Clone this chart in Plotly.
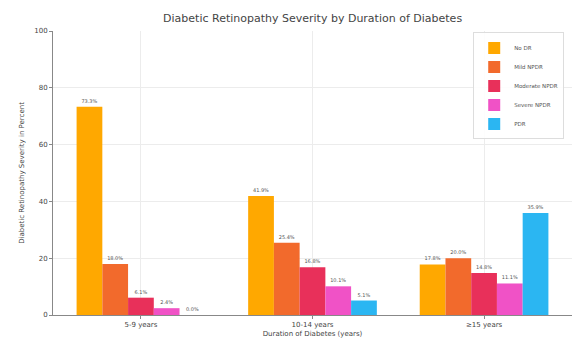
import plotly.graph_objects as go

# Share of patients in each retinopathy grade, by diabetes duration
durations = ["5-9 years", "10-14 years", "≥15 years"]
no_dr = [73.3, 41.9, 17.8]
mild_npdr = [18.0, 25.4, 20.0]
moderate_npdr = [6.1, 16.8, 14.8]
severe_npdr = [2.4, 10.1, 11.1]
pdr = [0.0, 5.1, 35.9]

series = [
    ("No DR", no_dr, "#FFA800"),
    ("Mild NPDR", mild_npdr, "#F26A2C"),
    ("Moderate NPDR", moderate_npdr, "#E8305A"),
    ("Severe NPDR", severe_npdr, "#F052C6"),
    ("PDR", pdr, "#2BB6F2"),
]

FONT = "DejaVu Sans"

fig = go.Figure()
for name, vals, color in series:
    fig.add_trace(go.Bar(
        name=name,
        x=durations,
        y=vals,
        marker=dict(color=color, line=dict(width=0)),
        texttemplate="%{y:.1f}%",
        textposition="outside",
        constraintext="none",
        cliponaxis=False,
        textfont=dict(size=5, color="#555555", family=FONT),
    ))

fig.update_layout(
    width=572,
    height=338,
    margin=dict(l=53, r=0, t=31, b=23),
    paper_bgcolor="white",
    plot_bgcolor="white",
    barmode="group",
    bargap=0.25,
    bargroupgap=0,
    font=dict(family=FONT, color="#444444", size=7),
    title=dict(
        text="Diabetic Retinopathy Severity by Duration of Diabetes",
        x=0.5465, xanchor="center",
        y=1 - 18 / 338, yanchor="middle",
        font=dict(size=11, color="#444444", family=FONT),
    ),
    legend=dict(
        x=0.985, xanchor="right",
        y=0.995, yanchor="top",
        bgcolor="rgba(255,255,255,0.9)",
        bordercolor="#dddddd",
        borderwidth=1,
        font=dict(size=5.5, color="#555555", family=FONT),
        itemwidth=30,
        tracegroupgap=0,
    ),
    xaxis=dict(
        range=[-0.5125, 2.5125],
        showline=True, linecolor="#888888", linewidth=1,
        ticks="outside", ticklen=3, tickcolor="#888888",
        showgrid=True, gridcolor="#ececec", gridwidth=0.8,
        tickfont=dict(size=7, color="#444444"),
        title=dict(text="Duration of Diabetes (years)", standoff=2,
                   font=dict(size=7, color="#444444")),
    ),
    yaxis=dict(
        range=[0, 100],
        tickvals=[0, 20, 40, 60, 80, 100],
        showline=True, linecolor="#888888", linewidth=1,
        ticks="outside", ticklen=3, tickcolor="#888888",
        showgrid=True, gridcolor="#ececec", gridwidth=0.8,
        zeroline=False,
        tickfont=dict(size=7, color="#444444"),
        title=dict(text="Diabetic Retinopathy Severity in Percent", standoff=8,
                   font=dict(size=7, color="#444444")),
    ),
)

fig.write_html("out.html")
